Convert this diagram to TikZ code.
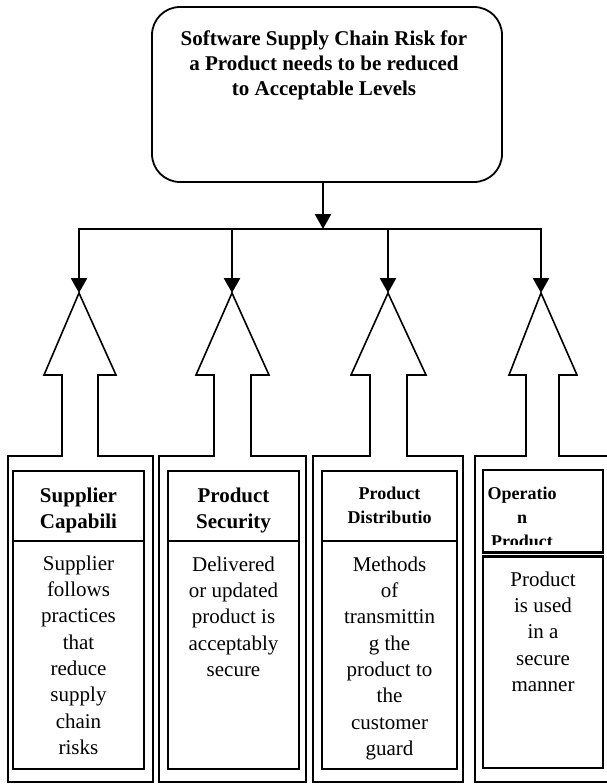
\documentclass[tikz,border=0pt]{standalone}
\usepackage{fontspec}
\setmainfont{Liberation Serif}
\usetikzlibrary{arrows.meta}
\begin{document}
\begin{tikzpicture}[x=1pt,y=-1pt,
  goalbox/.style={draw,line width=1.8pt,rounded corners=28pt,minimum width=350pt,minimum height=175pt,inner sep=0pt},
  outline/.style={draw,line width=1.6pt,line join=miter},
  panel/.style={draw,line width=2.2pt},
  wire/.style={line width=2.6pt},
  tip/.style={-{Triangle[length=15pt,width=16pt]}},
  bodytext/.style={align=center,inner sep=0pt,anchor=north,font=\fontsize{21}{26.3}\selectfont},
  headtext/.style={bodytext,font=\bfseries\fontsize{21}{26}\selectfont},
  smallhead/.style={bodytext,font=\bfseries\fontsize{18}{24}\selectfont},
  titletext/.style={bodytext,font=\bfseries\fontsize{21}{25}\selectfont},
]
\useasboundingbox (0,0) rectangle (607,784);
\clip (0,0) rectangle (607,784);

% goal
\node[goalbox] (goal) at (327,94.5) {};
\node[titletext] (goaltext) at (324,27.5) {\strut Software Supply Chain Risk for\\a Product needs to be reduced\\to Acceptable Levels};

% apexes of the four hollow arrows and the distribution bus
\coordinate (a1) at (79,293);
\coordinate (a2) at (232,293);
\coordinate (a3) at (388,293);
\coordinate (a4) at (541,293);
\coordinate (hub) at (323,229);

\draw[wire,tip] (goal.south -| hub) -- (hub);
\draw[wire,{Triangle[length=15pt,width=16pt]}-{Triangle[length=15pt,width=16pt]}]
  (a1) -- (a1 |- hub) -- (a4 |- hub) -- (a4);
\draw[wire,tip] (a2 |- hub) -- (a2);
\draw[wire,tip] (a3 |- hub) -- (a3);

% hollow arrows merged with the outer frames
\draw[outline] (8,782) -- (8,456) -- (62,456) -- (62,375) -- (44,375) -- (a1)
  -- (116,375) -- (98,375) -- (98,456) -- (153,456) -- (153,782) -- cycle;
\draw[outline] (159,782) -- (159,456) -- (214,456) -- (214,375) -- (196,375) -- (a2)
  -- (269,375) -- (251,375) -- (251,456) -- (306,456) -- (306,782) -- cycle;
\draw[outline] (313,782) -- (313,456) -- (370,456) -- (370,375) -- (351,375) -- (a3)
  -- (426,375) -- (407,375) -- (407,456) -- (463,456) -- (463,782) -- cycle;
\draw[outline] (475,782) -- (475,456) -- (526,456) -- (526,375) -- (509,375) -- (a4)
  -- (577,375) -- (559,375) -- (559,456) -- (615,456) -- (615,782) -- cycle;

% inner panels
\draw[panel] (13,471) rectangle (144,769);
\draw[panel] (13,541) -- (144,541);
\draw[panel] (168,471) rectangle (299,769);
\draw[panel] (168,541) -- (299,541);
\draw[panel] (322,471) rectangle (457,769);
\draw[panel] (322,541) -- (457,541);
\draw[panel] (483,470) rectangle (603,552.5);
\draw[panel] (483,556.5) rectangle (603,768);

% panel texts
\node[headtext] (h1) at (78.5,483.8) {\strut Supplier\\Capabili};
\node[bodytext] (b1) at (78.5,551.6) {\strut Supplier\\follows\\practices\\that\\reduce\\supply\\chain\\risks};

\node[headtext] (h2) at (233.5,483.8) {\strut Product\\Security};
\node[bodytext] (b2) at (233.5,552.6) {\strut Delivered\\or updated\\product is\\acceptably\\secure};

\node[smallhead] (h3) at (389.5,482.2) {\strut Product\\Distributio};
\node[bodytext] (b3) at (389.5,552.6) {\strut Methods\\of\\transmittin\\g the\\product to\\the\\customer\\guard};

\begin{scope}
  \clip (483,470) rectangle (603,544);
  \node[smallhead] (h4) at (522,482.2) {\strut Operatio\\n\\Product};
\end{scope}
\node[bodytext] (b4) at (543,567.6) {\strut Product\\is used\\in a\\secure\\manner};
\end{tikzpicture}
\end{document}
